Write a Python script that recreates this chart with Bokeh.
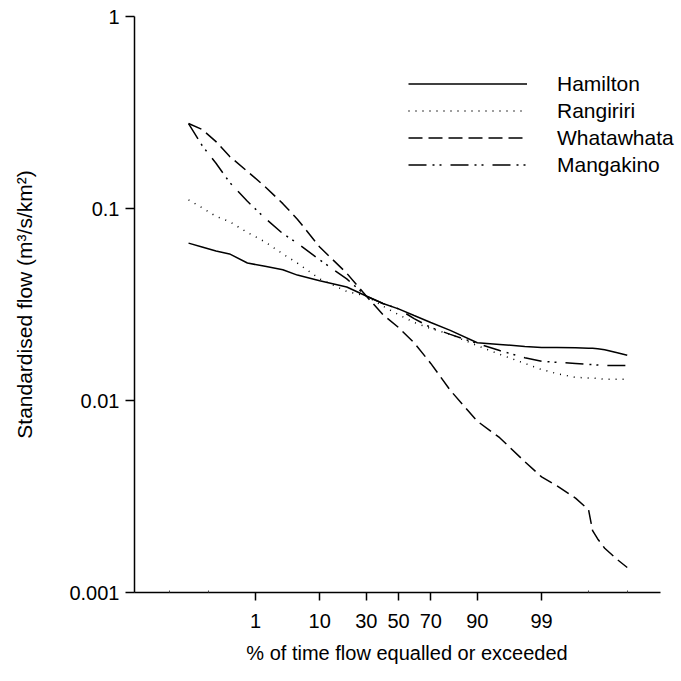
from statistics import NormalDist

from bokeh.plotting import figure
from bokeh.models import (Range1d, FixedTicker, Legend, LegendItem,
                          CustomJSTickFormatter)
from bokeh.embed import file_html
from bokeh.resources import INLINE

# ---------------- data ----------------
# % of time flow equalled or exceeded
pct_exceeded = [0.032, 0.07, 0.15, 0.3, 0.7, 1.5, 3, 5, 10, 20, 30, 40, 50, 60,
                70, 80, 90, 95, 98, 99, 99.5, 99.8, 99.9, 99.92, 99.94, 99.96,
                99.98, 99.99]

hamilton = [0.066, 0.063, 0.060, 0.058, 0.052, 0.050, 0.048, 0.045, 0.042,
            0.039, 0.035, 0.032, 0.030, 0.0277, 0.0255, 0.0232, 0.0200, 0.0196,
            0.0191, 0.0189, 0.0189, 0.0188, 0.0187, 0.0187, 0.0186, 0.0184,
            0.0178, 0.0172]
rangiriri = [0.111, 0.101, 0.091, 0.0855, 0.075, 0.067, 0.058, 0.052, 0.043,
             0.037, 0.035, 0.031, 0.028, 0.0255, 0.0237, 0.0221, 0.0193,
             0.0174, 0.0156, 0.0145, 0.0138, 0.0132, 0.0131, 0.0131, 0.0130,
             0.0129, 0.0129, 0.0129]
whatawhata = [0.277, 0.258, 0.223, 0.187, 0.156, 0.130, 0.106, 0.088, 0.063,
              0.046, 0.035, 0.028, 0.024, 0.020, 0.0156, 0.0113, 0.0078, 0.0064,
              0.0048, 0.0040, 0.0036, 0.0031, 0.0027, 0.0021, 0.0019, 0.0017,
              0.0015, 0.00135]
mangakino = [0.277, 0.213, 0.172, 0.137, 0.109, 0.089, 0.074, 0.066, 0.054,
             0.043, 0.035, 0.032, 0.030, 0.0267, 0.0240, 0.0221, 0.0198,
             0.0182, 0.0167, 0.0160, 0.0158, 0.0156, 0.0154, 0.0154, 0.0153,
             0.0152, 0.0152, 0.0152]

series_names = ["Hamilton", "Rangiriri", "Whatawhata", "Mangakino"]

x_tick_pcts = [1, 10, 30, 50, 70, 90, 99]
x_tick_labels = ["1", "10", "30", "50", "70", "90", "99"]
x_minor_pcts = [0.01, 0.1, 99.9, 99.99]
y_ticks = [0.001, 0.01, 0.1, 1]
y_tick_labels = ["0.001", "0.01", "0.1", "1"]

# ---------------- probability (normal) scale ----------------
_nd = NormalDist()


def probit(pct):
    return _nd.inv_cdf(pct / 100.0)


xs = [probit(v) for v in pct_exceeded]
x_ticks = [probit(v) for v in x_tick_pcts]
x_minor = [probit(v) for v in x_minor_pcts]

FONT = "Liberation Sans"

# x axis spans z in [-4.293, 4.26]; frame extends a little further right
X_AXIS_START, X_AXIS_END = -4.293, 4.26
FRAME_W = 545
PX_PER_Z = 526 / (X_AXIS_END - X_AXIS_START)

p = figure(frame_width=FRAME_W, frame_height=576,
           x_range=Range1d(X_AXIS_START, X_AXIS_START + FRAME_W / PX_PER_Z),
           y_range=Range1d(0.001, 1),
           y_axis_type="log", output_backend="svg", toolbar_location=None,
           min_border_left=134, min_border_right=0, min_border_top=16,
           min_border_bottom=84, background_fill_color="white",
           border_fill_color="white")
p.outline_line_color = None
p.grid.visible = False

lookup_js = """
let best = 0; let bd = Infinity;
for (let i = 0; i < tvals.length; i++) {
  const d = Math.abs(tvals[i] - tick);
  if (d < bd) { bd = d; best = i; }
}
return tlabels[best];
"""

xa = p.xaxis[0]
xa.ticker = FixedTicker(ticks=x_ticks, minor_ticks=x_minor)
xa.formatter = CustomJSTickFormatter(args=dict(tvals=x_ticks, tlabels=x_tick_labels), code=lookup_js)
xa.bounds = (X_AXIS_START, X_AXIS_END)
ya = p.yaxis[0]
ya.ticker = FixedTicker(ticks=y_ticks, minor_ticks=[])
ya.formatter = CustomJSTickFormatter(args=dict(tvals=y_ticks, tlabels=y_tick_labels), code=lookup_js)

for ax in (xa, ya):
    ax.axis_line_width = 1.5
    ax.axis_line_color = "black"
    ax.major_tick_line_width = 1.5
    ax.major_tick_line_color = "black"
    ax.major_tick_in = 0
    ax.major_label_text_font = FONT
    ax.major_label_text_font_size = "20px"
    ax.major_label_text_color = "black"
    ax.axis_label_text_font = FONT
    ax.axis_label_text_font_style = "normal"
    ax.axis_label_text_color = "black"

ya.minor_tick_line_color = None
xa.minor_tick_line_color = "#444444"
xa.minor_tick_line_width = 1
xa.minor_tick_in = 2
xa.minor_tick_out = 0

xa.major_tick_out = 8
xa.major_label_standoff = 13
xa.axis_label = "% of time flow equalled or exceeded"
xa.axis_label_text_font_size = "20px"
xa.axis_label_standoff = 11
ya.major_tick_out = 9
ya.major_label_standoff = 6
ya.axis_label = "Standardised flow (m³/s/km²)"
ya.axis_label_text_font_size = "21px"
ya.axis_label_standoff = 30

styles = [
    dict(line_dash="solid"),
    dict(line_dash="1 6"),
    dict(line_dash="14 6"),
    dict(line_dash="18 6 2 5 2 9"),
]
all_series = [hamilton, rangiriri, whatawhata, mangakino]
items = []
for name, ys, st in zip(series_names, all_series, styles):
    r = p.line(xs, ys, line_color="black", line_width=1.5, **st)
    items.append(LegendItem(label=name, renderers=[r]))

legend = Legend(items=items, location=(274, 414), orientation="vertical",
                glyph_width=119, glyph_height=27, label_height=27,
                label_standoff=30, spacing=0, padding=0, margin=0,
                border_line_color=None, background_fill_alpha=0,
                label_text_font=FONT, label_text_font_size="21px",
                label_text_color="black")
p.add_layout(legend)

open("out.html", "w").write(file_html(p, INLINE))
